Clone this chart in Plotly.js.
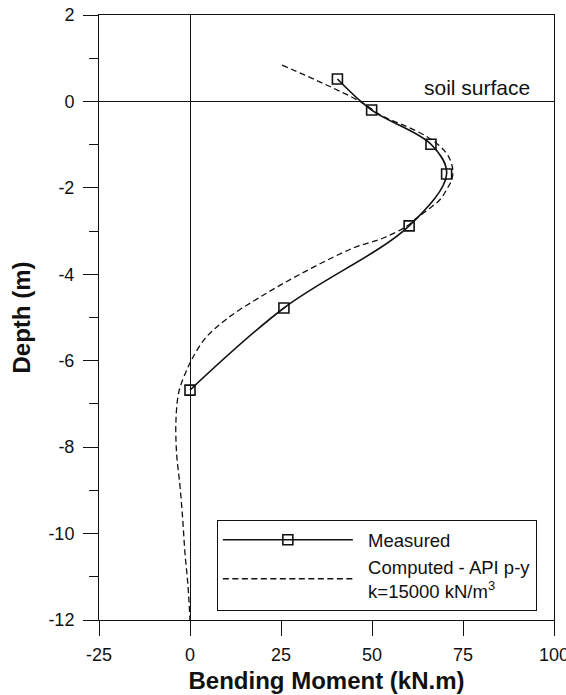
<!DOCTYPE html>
<html>
<head>
<meta charset="utf-8">
<script src="https://cdn.plot.ly/plotly-3.0.1.min.js"></script>
<style>html,body{margin:0;padding:0;background:#fff;}#chart{width:566px;height:695px;}</style>
</head>
<body>
<div id="chart"></div>
<script>
// Measured bending moment (kN.m) vs depth (m)
const measuredMoment = [40.5, 49.9, 66.2, 70.5, 60.2, 25.8, 0];
const measuredDepth  = [0.52, -0.2, -0.99, -1.68, -2.88, -4.78, -6.68];

// Computed - API p-y, k=15000 kN/m3
const computedMoment = [25.3, 36.5, 46.7, 53.1, 59.5, 65.0, 68.7, 71.0, 72.2, 71.9, 70.5, 68.7, 65.9, 62.3, 59.5, 53.1, 44.9, 30.2, 19.2, 10.1, 4.1, 0.5, -0.8, -3.0, -3.85, -3.7, -2.75, -2.0, -1.4, -0.55, 0];
const computedDepth  = [0.84, 0.42, 0, -0.35, -0.58, -0.81, -1.04, -1.27, -1.58, -1.81, -2.04, -2.27, -2.47, -2.7, -2.89, -3.16, -3.39, -4.0, -4.53, -5.03, -5.49, -5.97, -6.2, -6.7, -7.36, -8.12, -8.9, -9.67, -10.43, -11.21, -12];

const xTicks = [-25, 0, 25, 50, 75, 100];
const yTicks = [2, 0, -2, -4, -6, -8, -10, -12];

const FONT = 'Liberation Sans, Arial, Helvetica, sans-serif';
const NB = '\u00a0\u00a0';

const traces = [
  {
    x: measuredMoment, y: measuredDepth, name: NB + 'Measured',
    type: 'scatter', mode: 'lines+markers',
    line: {color: '#111', width: 1.6, shape: 'spline', smoothing: 1},
    marker: {symbol: 'square-open', size: 10, color: '#111', line: {width: 1.6, color: '#111'}}
  },
  {
    x: computedMoment, y: computedDepth, name: NB + 'Computed - API p-y<br>' + NB + 'k=15000 kN/m<sup>3</sup>',
    type: 'scatter', mode: 'lines',
    line: {color: '#111', width: 1.3, dash: '6px,3.5px', shape: 'spline', smoothing: 1}
  }
];

const layout = {
  width: 566, height: 695,
  margin: {l: 99, r: 12, t: 15, b: 75},
  paper_bgcolor: '#fff', plot_bgcolor: '#fff',
  font: {family: FONT, size: 18, color: '#111'},
  showlegend: true,
  legend: {
    x: 0.259, y: 0.165, xanchor: 'left', yanchor: 'top',
    bordercolor: '#111', borderwidth: 1, bgcolor: '#fff',
    itemwidth: 130, font: {family: FONT, size: 18.5, color: '#111'},
    tracegroupgap: 0
  },
  xaxis: {
    range: [-25, 100], tickvals: xTicks, ticktext: xTicks.map(String),
    ticks: 'outside', ticklen: 15, tickwidth: 1, tickcolor: '#111',
    ticklabeloverflow: 'allow', ticklabelstandoff: 3,
    showline: true, linecolor: '#111', linewidth: 1, mirror: true,
    showgrid: false, zeroline: true, zerolinecolor: '#111', zerolinewidth: 1,
    tickfont: {family: FONT, size: 18, color: '#111'},
    title: {text: '<b>Bending Moment (kN.m)</b>', font: {family: FONT, size: 24, color: '#111'}, standoff: 8}
  },
  yaxis: {
    range: [-12, 2], tickvals: yTicks, ticktext: yTicks.map(String),
    ticks: 'outside', ticklen: 15, tickwidth: 1, tickcolor: '#111',
    ticklabelstandoff: 5,
    minor: {dtick: 1, tick0: 1, ticks: 'outside', ticklen: 9, tickwidth: 1, tickcolor: '#111', showgrid: false},
    showline: true, linecolor: '#111', linewidth: 1, mirror: true,
    showgrid: false, zeroline: true, zerolinecolor: '#111', zerolinewidth: 1,
    tickfont: {family: FONT, size: 18, color: '#111'},
    title: {text: '<b>Depth (m)</b>', font: {family: FONT, size: 24, color: '#111'}, standoff: 10}
  },
  annotations: [
    {x: 1, xref: 'paper', xanchor: 'right', xshift: -22, y: 0, yref: 'y', yanchor: 'bottom', yshift: 0,
     text: 'soil surface', showarrow: false, font: {family: FONT, size: 21, color: '#111'}}
  ]
};

Plotly.newPlot('chart', traces, layout, {displayModeBar: false, staticPlot: true});
</script>
</body>
</html>
